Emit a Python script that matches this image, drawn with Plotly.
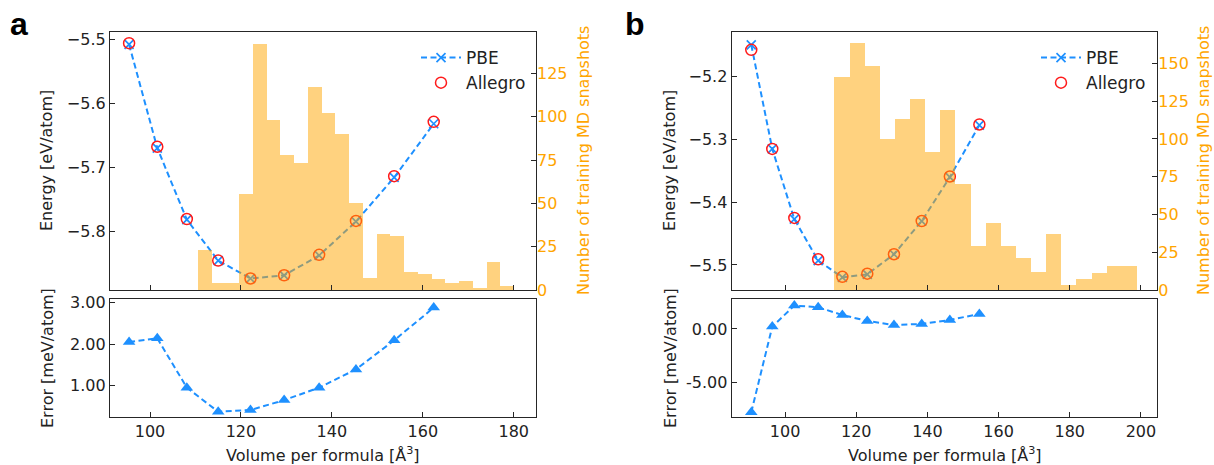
import numpy as np
import plotly.graph_objects as go

W, H = 1214, 465
FONT = "DejaVu Sans"
BLUE = "#1E90FF"
RED = "#FF1A1A"
ORANGE = "#FFA500"
FRAME = "#262626"

# ---------------- data (panel a) ----------------
vol_a = [95.4, 101.6, 108.1, 115.0, 122.1, 129.5, 137.2, 145.3, 153.7, 162.4]
pbe_a = [-5.508, -5.670, -5.782, -5.846, -5.874, -5.869, -5.838, -5.785, -5.716, -5.632]
allegro_a = [-5.506, -5.668, -5.781, -5.846, -5.874, -5.869, -5.837, -5.784, -5.714, -5.629]
err_a = [2.05, 2.14, 0.95, 0.37, 0.41, 0.65, 0.95, 1.39, 2.09, 2.88]
hist_a_lo, hist_a_hi = 110.5, 180.1
hist_a_counts = [23, 4, 4, 55, 142, 98, 78, 73, 117, 102, 90, 50, 7, 32, 31, 10, 9, 6, 4, 5, 1, 16, 2]

# ---------------- data (panel b) ----------------
vol_b = [90.5, 96.4, 102.6, 109.3, 116.1, 123.1, 130.6, 138.4, 146.3, 154.6]
pbe_b = [-5.149, -5.315, -5.427, -5.493, -5.520, -5.515, -5.483, -5.430, -5.360, -5.277]
allegro_b = [-5.157, -5.315, -5.425, -5.491, -5.519, -5.514, -5.483, -5.430, -5.359, -5.276]
err_b = [-7.81, 0.22, 2.19, 2.03, 1.31, 0.75, 0.37, 0.47, 0.84, 1.41]
hist_b_lo, hist_b_hi = 113.8, 198.8
hist_b_counts = [141, 163, 148, 100, 113, 126, 91, 119, 70, 29, 44, 29, 21, 12, 37, 3, 7, 11, 16, 16]

# tick labels
e_ticks_a = [-5.8, -5.7, -5.6, -5.5]
e_ticks_b = [-5.5, -5.4, -5.3, -5.2]
cnt_ticks_a = [0, 25, 50, 75, 100, 125]
cnt_ticks_b = [0, 25, 50, 75, 100, 125, 150]
err_ticks_a = [1.0, 2.0, 3.0]
err_ticks_b = [-5.0, 0.0]
vol_ticks_a = [100, 120, 140, 160, 180]
vol_ticks_b = [100, 120, 140, 160, 180, 200]

fig = go.Figure()


def hist_bars(lo, hi, counts):
    edges = np.linspace(lo, hi, len(counts) + 1)
    centers = (edges[:-1] + edges[1:]) / 2
    return centers, edges[1] - edges[0]


def add_panel(vol, pbe, allegro, err, lo, hi, counts, xa, ya, ya2, xb, yb, legend):
    fig.add_trace(go.Scatter(
        x=vol, y=pbe, mode="lines+markers", name="PBE", legend=legend,
        line=dict(color=BLUE, width=2, dash="6px,3.5px"),
        marker=dict(symbol="x-thin", size=9, line=dict(color=BLUE, width=1.7), color=BLUE),
        xaxis=xa, yaxis=ya))
    fig.add_trace(go.Scatter(
        x=vol, y=allegro, mode="markers", name="Allegro", legend=legend,
        marker=dict(symbol="circle-open", size=11, color=RED, line=dict(color=RED, width=1.5)),
        xaxis=xa, yaxis=ya))
    centers, width = hist_bars(lo, hi, counts)
    fig.add_trace(go.Bar(
        x=centers, y=counts, width=width, showlegend=False,
        marker=dict(color=ORANGE, opacity=0.5, line=dict(width=0)),
        xaxis=xa, yaxis=ya2))
    fig.add_trace(go.Scatter(
        x=vol, y=err, mode="lines+markers", showlegend=False,
        line=dict(color=BLUE, width=2, dash="6px,3.5px"),
        marker=dict(symbol="triangle-up", size=11, color=BLUE),
        xaxis=xb, yaxis=yb))


add_panel(vol_a, pbe_a, allegro_a, err_a, hist_a_lo, hist_a_hi, hist_a_counts,
          "x", "y", "y2", "x2", "y3", "legend")
add_panel(vol_b, pbe_b, allegro_b, err_b, hist_b_lo, hist_b_hi, hist_b_counts,
          "x3", "y4", "y5", "x4", "y6", "legend2")

top_dom = [1 - 290 / H, 1 - 32.3 / H]
bot_dom = [1 - 416.7 / H, 1 - 299.3 / H]
xa_dom = [110 / W, 536 / W]
xb_dom = [731.7 / W, 1157.3 / W]

tickfont = dict(family=FONT, size=16, color="#222")
common = dict(showline=True, linecolor=FRAME, linewidth=1.2, mirror=True,
              ticks="inside", ticklen=5, tickwidth=1, tickcolor=FRAME,
              showgrid=False, zeroline=False, tickfont=tickfont, automargin=False)


def minus(v, fmt):
    s = fmt.format(v)
    return s.replace("-", "\u2212")


fig.update_layout(
    width=W, height=H, margin=dict(l=0, r=0, t=0, b=0),
    paper_bgcolor="white", plot_bgcolor="rgba(0,0,0,0)",
    bargap=0, showlegend=True,
    font=dict(family=FONT, size=16, color="#222"),
    xaxis=dict(domain=xa_dom, anchor="y", range=[91.2, 184.9], tickvals=vol_ticks_a,
               showticklabels=False, **common),
    yaxis=dict(domain=top_dom, anchor="x", range=[-5.892, -5.489], tickvals=e_ticks_a,
               ticktext=[minus(v, "{:.1f}") for v in e_ticks_a], **common),
    yaxis2=dict(overlaying="y", anchor="x", side="right", range=[0, 148.7],
                tickvals=cnt_ticks_a, showline=False, ticks="inside", ticklen=5,
                tickcolor=FRAME, showgrid=False, zeroline=False, automargin=False,
                tickfont=dict(family=FONT, size=16, color=ORANGE)),
    xaxis2=dict(domain=xa_dom, anchor="y3", range=[91.2, 184.9], tickvals=vol_ticks_a, **common),
    yaxis3=dict(domain=bot_dom, anchor="x2", range=[0.25, 3.08], tickvals=err_ticks_a,
                ticktext=["{:.2f}".format(v) for v in err_ticks_a], **common),
    xaxis3=dict(domain=xb_dom, anchor="y4", range=[85.0, 204.6], tickvals=vol_ticks_b,
                showticklabels=False, **common),
    yaxis4=dict(domain=top_dom, anchor="x3", range=[-5.540, -5.129], tickvals=e_ticks_b,
                ticktext=[minus(v, "{:.1f}") for v in e_ticks_b], **common),
    yaxis5=dict(overlaying="y4", anchor="x3", side="right", range=[0, 170.6],
                tickvals=cnt_ticks_b, showline=False, ticks="inside", ticklen=5,
                tickcolor=FRAME, showgrid=False, zeroline=False, automargin=False,
                tickfont=dict(family=FONT, size=16, color=ORANGE)),
    xaxis4=dict(domain=xb_dom, anchor="y6", range=[85.0, 204.6], tickvals=vol_ticks_b, **common),
    yaxis6=dict(domain=bot_dom, anchor="x4", range=[-8.22, 2.78], tickvals=err_ticks_b,
                ticktext=["{:.2f}".format(v) for v in err_ticks_b], **common),
    legend=dict(x=416 / W, y=1 - 40 / H, xanchor="left", yanchor="top",
                bgcolor="rgba(0,0,0,0)", font=dict(family=FONT, size=17, color="#222"),
                itemwidth=40, tracegroupgap=0),
    legend2=dict(x=1036 / W, y=1 - 40 / H, xanchor="left", yanchor="top",
                 bgcolor="rgba(0,0,0,0)", font=dict(family=FONT, size=17, color="#222"),
                 itemwidth=40, tracegroupgap=0),
)

ann = []


def txt(x, y, s, size=16, color="#222", angle=0, bold=False, fam=FONT, xanchor="center"):
    ann.append(dict(x=x / W, y=1 - y / H, xref="paper", yref="paper", text=("<b>%s</b>" % s) if bold else s,
                    showarrow=False, textangle=angle, xanchor=xanchor, yanchor="middle",
                    font=dict(family=fam, size=size, color=color)))


txt(8, 24, "a", size=32, color="black", bold=True, fam="Liberation Sans", xanchor="left")
txt(623, 24, "b", size=32, color="black", bold=True, fam="Liberation Sans", xanchor="left")
for x0, xl, xc in [(47, 584, 323), (670, 1204, 944.5)]:
    txt(x0, 161, "Energy [eV/atom]", angle=-90)
    txt(x0, 358, "Error [meV/atom]", angle=-90)
    txt(xl, 161, "Number of training MD snapshots", angle=-90, color=ORANGE)
    txt(xc, 454, "Volume per formula [Å<sup>3</sup>]")
fig.update_layout(annotations=ann)

fig.write_html("out.html")
